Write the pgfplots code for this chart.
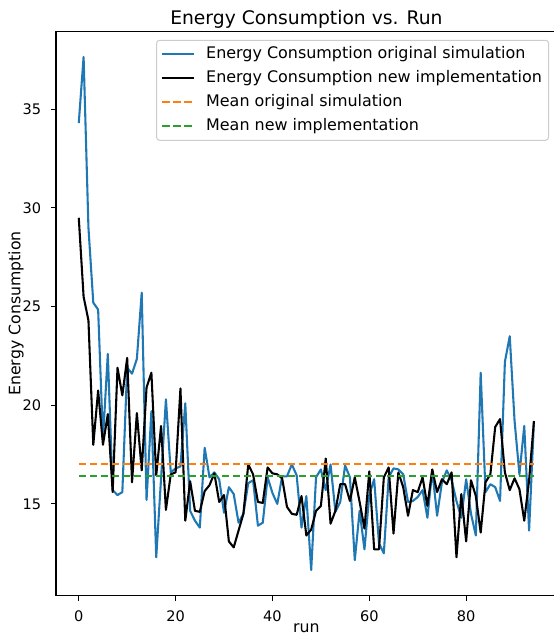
\documentclass[border=0pt]{standalone}
\usepackage{fontspec}
\setmainfont{DejaVu Sans}
\usepackage{pgfplots}
\usepackage{pgfplotstable}
\pgfplotsset{compat=1.18}

\definecolor{mplblue}{HTML}{1F77B4}
\definecolor{mplorange}{HTML}{FF7F0E}
\definecolor{mplgreen}{HTML}{2CA02C}

% energy per run: original simulation / new implementation
\pgfplotstableread{
run orig new
0 34.3 29.5
1 37.65 25.5
2 29.0 24.3
3 25.2 18.0
4 24.85 20.75
5 18.3 18.0
6 22.6 19.55
7 15.7 15.6
8 15.45 21.9
9 15.6 20.5
10 21.9 22.4
11 21.6 16.1
12 22.35 19.6
13 25.7 16.7
14 15.2 20.9
15 19.7 21.65
16 12.3 16.45
17 16.3 18.95
18 20.3 14.7
19 16.6 16.5
20 16.8 16.6
21 16.9 20.85
22 20.1 14.15
23 14.65 16.15
24 14.15 14.65
25 13.8 14.6
26 17.85 15.65
27 16.35 15.95
28 16.6 16.55
29 16.25 15.1
30 14.55 15.45
31 15.85 13.1
32 15.5 12.8
33 14.05 13.65
34 14.5 14.5
35 16.05 17.0
36 16.2 16.5
37 13.9 15.1
38 14.05 15.05
39 16.35 16.85
40 15.55 16.55
41 15.0 16.5
42 16.4 16.3
43 16.4 14.85
44 17.0 14.5
45 16.45 14.45
46 13.8 15.4
47 15.4 13.4
48 11.65 13.7
49 16.35 14.65
50 16.75 14.9
51 15.7 17.3
52 17.0 14.0
53 14.6 14.65
54 15.1 16.0
55 16.95 16.0
56 16.35 15.15
57 12.15 16.35
58 14.65 15.1
59 12.7 13.75
60 15.45 16.65
61 16.25 12.7
62 13.0 12.7
63 12.5 16.35
64 16.35 16.85
65 16.8 13.5
66 16.75 16.6
67 16.5 15.85
68 15.1 14.4
69 15.15 15.7
70 15.35 15.6
71 15.7 16.35
72 14.3 14.9
73 16.7 16.75
74 14.4 15.6
75 16.1 16.25
76 16.7 16.0
77 16.2 16.6
78 15.15 12.3
79 14.3 15.5
80 16.25 13.1
81 14.5 16.2
82 13.4 15.4
83 21.65 13.55
84 15.6 16.1
85 16.0 16.5
86 15.85 18.9
87 15.15 19.3
88 22.2 16.6
89 23.5 15.7
90 19.2 16.3
91 16.5 15.75
92 18.95 14.15
93 13.65 16.2
94 19.2 19.2
}\energy

\begin{document}
\begin{tikzpicture}
\begin{axis}[
  scale only axis,
  width=500.7bp, height=564.4bp,
  xmin=-4.7, xmax=98.7, ymin=10.35, ymax=38.95,
  xtick={0,20,40,60,80}, ytick={15,20,25,30,35},
  tick pos=left, tick align=outside, major tick length=4.9bp,
  every tick/.style={black, line width=1.1bp},
  axis line style={line width=1.1bp},
  /pgf/number format/assume math mode=true,
  tick label style={font=\fontsize{14.6}{17}\selectfont},
  xticklabel style={anchor=base, inner sep=0pt, yshift=-21bp},
  yticklabel style={anchor=east, inner sep=0pt, xshift=-9.8bp},
  title={Energy Consumption vs. Run},
  title style={font=\fontsize{18.8}{22}\selectfont, at={(axis description cs:0.5,1)}, anchor=base, inner sep=0pt, yshift=1bp},
  xlabel={run}, ylabel={Energy Consumption},
  label style={font=\fontsize{15.8}{18}\selectfont, inner sep=0pt},
  xlabel style={at={(axis description cs:0.5,0)}, anchor=base, yshift=-37bp},
  ylabel style={at={(axis description cs:0,0.5)}, anchor=base, yshift=35.5bp},
  legend cell align=left,
  legend image code/.code={\draw[#1] (0bp,0bp) -- (32bp,0bp);},
  legend style={at={(axis description cs:1,1)}, anchor=north east,
    xshift=-7.7bp, yshift=-8.5bp,
    font=\fontsize{16.0}{19}\selectfont,
    draw=black!20, line width=1bp, rounded corners=3bp,
    fill=white, fill opacity=0.8, text opacity=1,
    inner xsep=4.5bp, inner ysep=4bp, row sep=4bp, column sep=9bp,
    nodes={inner sep=2bp, text height=12bp, text depth=4bp}},
]
\addplot[mplblue, line width=2.08bp, line join=round] table[x=run, y=orig] {\energy};
\addlegendentry{Energy Consumption original simulation}
\addplot[black, line width=2.08bp, line join=round] table[x=run, y=new] {\energy};
\addlegendentry{Energy Consumption new implementation}
\addplot[mplorange, line width=2.08bp, dash pattern=on 7.7bp off 3.3bp] coordinates {(0,17.03) (94,17.03)};
\addlegendentry{Mean original simulation}
\addplot[mplgreen, line width=2.08bp, dash pattern=on 7.7bp off 3.3bp] coordinates {(0,16.42) (94,16.42)};
\addlegendentry{Mean new implementation}
\end{axis}
\pgfresetboundingbox
\useasboundingbox (current axis.south west) ++(-56bp,-40.3bp) rectangle ++(554bp,636bp);
\end{tikzpicture}
\end{document}
